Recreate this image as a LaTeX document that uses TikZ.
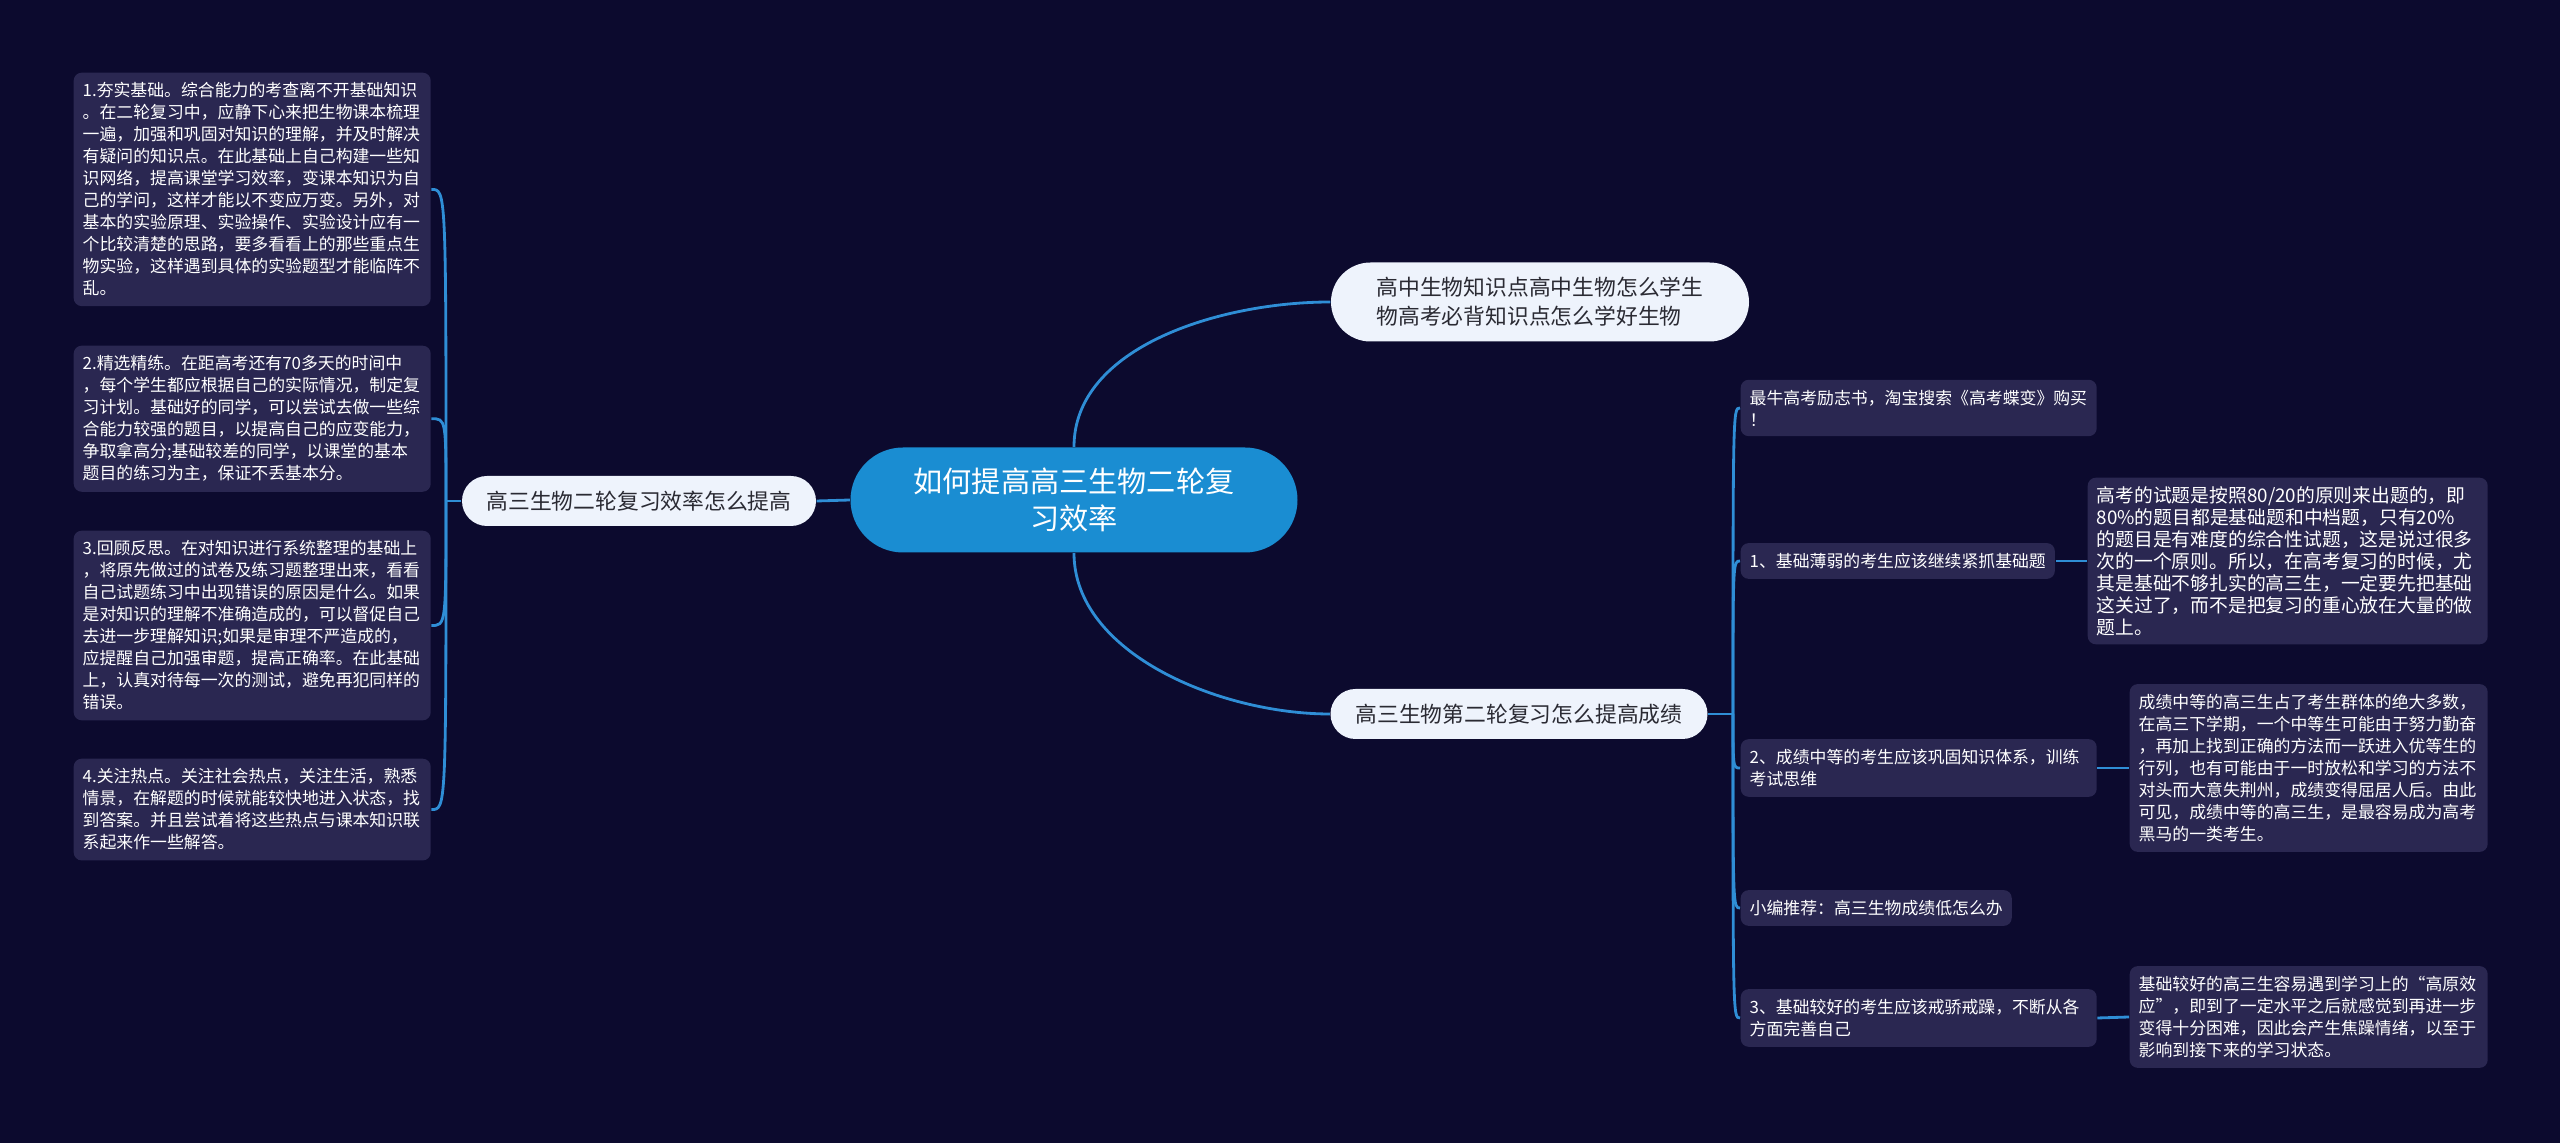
\documentclass[tikz,border=0pt]{standalone}
\usepackage{fontspec}
\setmainfont{Noto Sans CJK SC}
\usetikzlibrary{shapes.misc}
\definecolor{night}{HTML}{0C0A2E}
\definecolor{slate}{HTML}{2A2751}
\definecolor{cloud}{HTML}{EEF3FC}
\definecolor{ink}{HTML}{2A2A33}
\definecolor{sky}{HTML}{1A8DD2}
\definecolor{wire}{HTML}{2F8ED6}

\begin{document}
\begin{tikzpicture}[x=0.1mm,y=-0.1mm,
    root/.style={rounded rectangle,fill=sky,text=white,align=center,inner sep=0pt,
                 font=\fontsize{8.3pt}{10.7pt}\selectfont,minimum width=44.7mm,minimum height=10.5mm},
    topic/.style={rounded rectangle,fill=cloud,text=ink,align=left,inner sep=0pt,
                  font=\fontsize{6.2pt}{8.2pt}\selectfont,minimum height=5mm},
    leaf/.style={fill=slate,rounded corners=0.8mm,text=white,align=left,
                 inner xsep=0.9mm,inner ysep=1mm,font=\fontsize{4.8pt}{6.26pt}\selectfont},
    link/.style={draw=wire,line width=0.8pt}]
  \fill[night] (0,0) rectangle (2560,1143);
  \useasboundingbox (0,0) rectangle (2560,1143);

  % centre
  \node[root] (root) at (1074,500) {如何提高高三生物二轮复\\习效率};

  % left branch
  \node[topic,minimum width=35.4mm] (lq) at (639,501) {高三生物二轮复习效率怎么提高};
  \node[leaf,text width=33.9mm,anchor=north west] (l1) at (73,72)
    {1.夯实基础。综合能力的考查离不开基础知识\\
     。在二轮复习中，应静下心来把生物课本梳理\\
     一遍，加强和巩固对知识的理解，并及时解决\\
     有疑问的知识点。在此基础上自己构建一些知\\
     识网络，提高课堂学习效率，变课本知识为自\\
     己的学问，这样才能以不变应万变。另外，对\\
     基本的实验原理、实验操作、实验设计应有一\\
     个比较清楚的思路，要多看看上的那些重点生\\
     物实验，这样遇到具体的实验题型才能临阵不\\
     乱。};
  \node[leaf,text width=33.9mm,anchor=north west] (l2) at (73,345)
    {2.精选精练。在距高考还有70多天的时间中\\
     ，每个学生都应根据自己的实际情况，制定复\\
     习计划。基础好的同学，可以尝试去做一些综\\
     合能力较强的题目，以提高自己的应变能力，\\
     争取拿高分;基础较差的同学，以课堂的基本\\
     题目的练习为主，保证不丢基本分。};
  \node[leaf,text width=33.9mm,anchor=north west] (l3) at (73,530)
    {3.回顾反思。在对知识进行系统整理的基础上\\
     ，将原先做过的试卷及练习题整理出来，看看\\
     自己试题练习中出现错误的原因是什么。如果\\
     是对知识的理解不准确造成的，可以督促自己\\
     去进一步理解知识;如果是审理不严造成的，\\
     应提醒自己加强审题，提高正确率。在此基础\\
     上，认真对待每一次的测试，避免再犯同样的\\
     错误。};
  \node[leaf,text width=33.9mm,anchor=north west] (l4) at (73,758)
    {4.关注热点。关注社会热点，关注生活，熟悉\\
     情景，在解题的时候就能较快地进入状态，找\\
     到答案。并且尝试着将这些热点与课本知识联\\
     系起来作一些解答。};

  % right branches
  \node[topic,minimum width=41.8mm,minimum height=7.9mm] (tq) at (1540,302)
    {高中生物知识点高中生物怎么学生\\物高考必背知识点怎么学好生物};
  \node[topic,minimum width=37.7mm] (bq) at (1519,714) {高三生物第二轮复习怎么提高成绩};

  \node[leaf,text width=33.8mm,anchor=west] (r1) at (1740,408)
    {最牛高考励志书，淘宝搜索《高考蝶变》购买\\！};
  \node[leaf,anchor=west] (r2) at (1740,561) {1、基础薄弱的考生应该继续紧抓基础题};
  \node[leaf,text width=33.8mm,anchor=west] (r3) at (1740,768)
    {2、成绩中等的考生应该巩固知识体系，训练\\考试思维};
  \node[leaf,anchor=west] (r4) at (1740,908) {小编推荐：高三生物成绩低怎么办};
  \node[leaf,text width=33.8mm,anchor=west] (r5) at (1740,1018)
    {3、基础较好的考生应该戒骄戒躁，不断从各\\方面完善自己};

  \node[leaf,text width=38.2mm,inner ysep=0.86mm,anchor=west,
        font=\fontsize{5.35pt}{6.26pt}\selectfont] (s1) at (2087,561)
    {高考的试题是按照80/20的原则来出题的，即\\
     80\%的题目都是基础题和中档题，只有20\%\\
     的题目是有难度的综合性试题，这是说过很多\\
     次的一个原则。所以，在高考复习的时候，尤\\
     其是基础不够扎实的高三生，一定要先把基础\\
     这关过了，而不是把复习的重心放在大量的做\\
     题上。};
  \node[leaf,text width=34mm,anchor=west] (s2) at (2129,768)
    {成绩中等的高三生占了考生群体的绝大多数，\\
     在高三下学期，一个中等生可能由于努力勤奋\\
     ，再加上找到正确的方法而一跃进入优等生的\\
     行列，也有可能由于一时放松和学习的方法不\\
     对头而大意失荆州，成绩变得屈居人后。由此\\
     可见，成绩中等的高三生，是最容易成为高考\\
     黑马的一类考生。};
  \node[leaf,text width=34mm,anchor=west] (s3) at (2129,1017)
    {基础较好的高三生容易遇到学习上的“高原效\\
     应”，即到了一定水平之后就感觉到再进一步\\
     变得十分困难，因此会产生焦躁情绪，以至于\\
     影响到接下来的学习状态。};

  % links
  \draw[link] (root.west) -- (lq.east);
  \coordinate (ls) at (446,501);
  \draw[link] (lq.west) -- (ls);
  \foreach \n in {l1,l2,l3,l4}
    \draw[link] (ls) .. controls (ls |- \n.east) .. (\n.east);

  \draw[link] (root.north) .. controls +(0,-100) and +(-110,0) .. (tq.west);
  \draw[link] (root.south) .. controls +(0,100) and +(-110,0) .. (bq.west);

  \coordinate (rs) at (1733,714);
  \draw[link] (bq.east) -- (rs);
  \foreach \n in {r1,r2,r3,r4,r5}
    \draw[link] (rs) .. controls (rs |- \n.west) .. (\n.west);
  \draw[link] (r2.east) -- (s1.west);
  \draw[link] (r3.east) -- (s2.west);
  \draw[link] (r5.east) -- (s3.west);
\end{tikzpicture}
\end{document}
